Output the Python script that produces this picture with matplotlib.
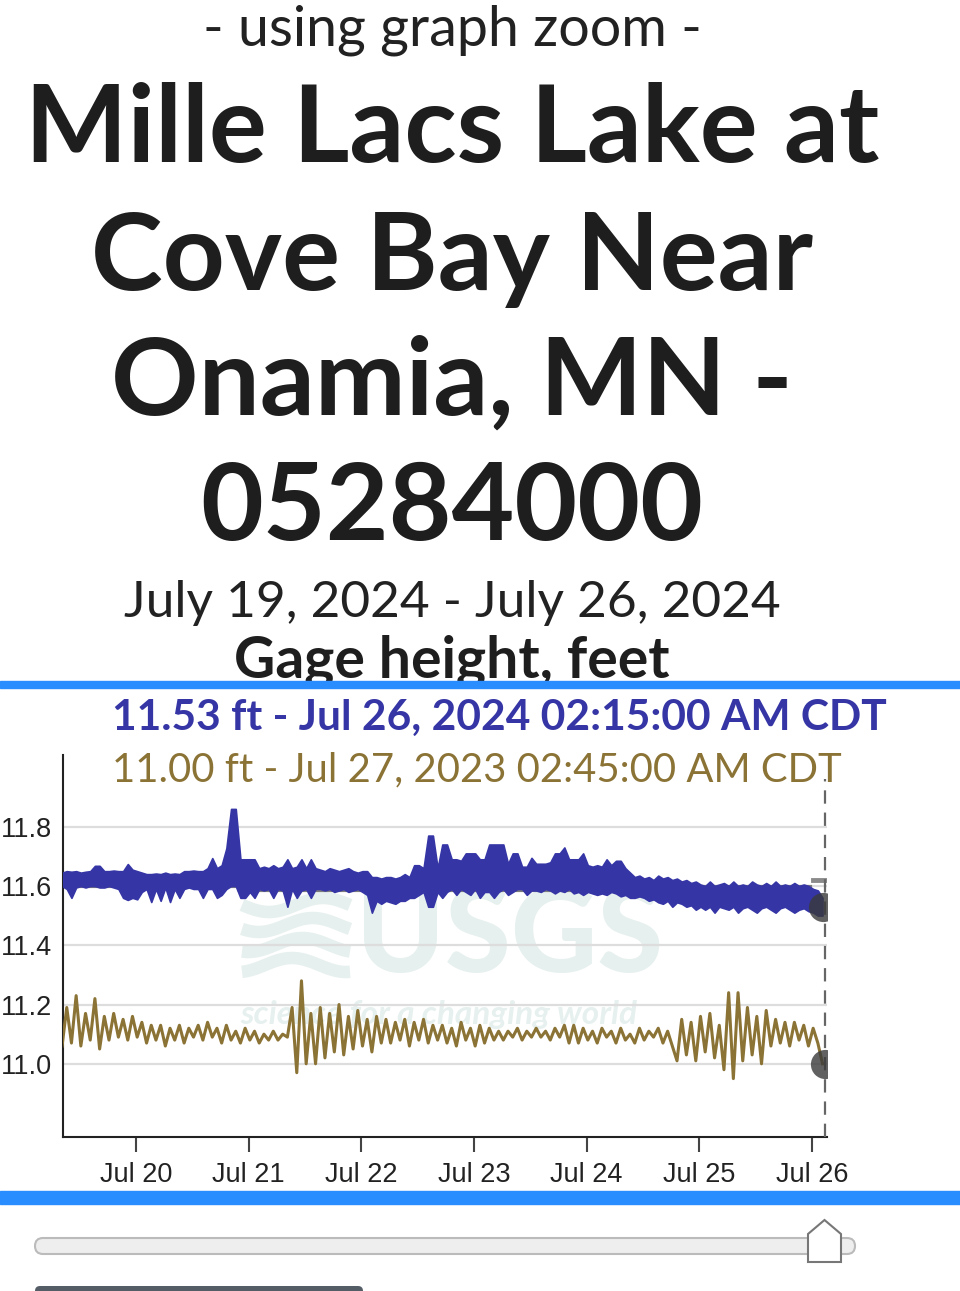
import numpy as np
import matplotlib
matplotlib.use("Agg")
import matplotlib.pyplot as plt
from matplotlib.patches import FancyBboxPatch, Polygon, Rectangle

# %% data -----------------------------------------------------------------
# one reading per hour, hours counted from Jul 19 2024 00:00
t_start = 8.25

# 2024 gage height, band top / bottom (ft)
blue_hi = [11.645, 11.65, 11.648, 11.65, 11.645, 11.648, 11.65,
           11.668, 11.668,
           11.65, 11.65, 11.652, 11.65, 11.65,
           11.674, 11.655, 11.65, 11.645,
           11.64, 11.64, 11.642, 11.64, 11.645, 11.64, 11.642, 11.64,
           11.65, 11.65, 11.652, 11.65, 11.65, 11.66,
           11.694,
           11.66, 11.67,
           11.727,
           11.86, 11.86,
           11.69, 11.69, 11.69, 11.69,
           11.66, 11.665, 11.66, 11.67, 11.66, 11.665, 11.69, 11.66, 11.665, 11.69, 11.66, 11.69, 11.66,
           11.655, 11.65, 11.66, 11.655, 11.65, 11.655, 11.66, 11.65, 11.645,
           11.65, 11.65,
           11.63,
           11.63, 11.625, 11.63, 11.63, 11.625, 11.63, 11.64, 11.63,
           11.67, 11.67,
           11.66,
           11.77, 11.77,
           11.66,
           11.74, 11.74,
           11.69, 11.69, 11.685,
           11.71, 11.71, 11.71,
           11.69, 11.69,
           11.74, 11.74, 11.74,
           11.74,
           11.675,
           11.71, 11.71,
           11.665, 11.665, 11.695,
           11.675, 11.675, 11.675,
           11.68, 11.71, 11.71,
           11.73,
           11.69, 11.69, 11.69,
           11.71,
           11.67, 11.665, 11.67, 11.665, 11.69, 11.67,
           11.685, 11.685,
           11.66, 11.645, 11.63, 11.635, 11.625,
           11.63, 11.62, 11.635, 11.625, 11.63, 11.62, 11.625, 11.615, 11.62, 11.61, 11.615,
           11.605, 11.60, 11.615, 11.60, 11.605, 11.61, 11.60, 11.615, 11.60, 11.605, 11.60, 11.615, 11.605,
           11.60, 11.61, 11.60, 11.615, 11.60, 11.605, 11.60, 11.61, 11.60, 11.605, 11.60, 11.59, 11.585,
           11.56]
blue_lo = [11.60, 11.59, 11.56, 11.595, 11.60, 11.595, 11.60,
           11.60, 11.595,
           11.595, 11.60, 11.595, 11.59, 11.56,
           11.553, 11.56, 11.555, 11.58,
           11.59, 11.546, 11.59, 11.55, 11.595, 11.546, 11.59, 11.56,
           11.59, 11.595, 11.59, 11.59, 11.56, 11.59,
           11.59,
           11.56, 11.57,
           11.59,
           11.60, 11.60,
           11.56, 11.56, 11.58, 11.56,
           11.59, 11.585, 11.59, 11.56, 11.59, 11.585, 11.53, 11.59, 11.56, 11.585, 11.59, 11.56, 11.59,
           11.59, 11.585, 11.59, 11.58, 11.585, 11.59, 11.58, 11.585, 11.59,
           11.58, 11.57,
           11.51,
           11.55, 11.54, 11.55, 11.545, 11.54, 11.55, 11.55, 11.56,
           11.56, 11.57,
           11.58,
           11.53, 11.53,
           11.58,
           11.56, 11.58,
           11.59, 11.57, 11.59,
           11.58, 11.57, 11.59,
           11.56, 11.58,
           11.58, 11.56, 11.58,
           11.59,
           11.57,
           11.58, 11.59,
           11.59, 11.57, 11.585,
           11.585, 11.58, 11.59,
           11.585, 11.575, 11.585,
           11.58,
           11.59, 11.575, 11.58,
           11.57,
           11.58, 11.575, 11.57, 11.575, 11.57, 11.58,
           11.575, 11.565,
           11.57, 11.56, 11.56, 11.565, 11.56,
           11.55, 11.555, 11.545, 11.54, 11.55, 11.53, 11.545, 11.54, 11.53, 11.535, 11.52,
           11.53, 11.52, 11.53, 11.51, 11.53, 11.525, 11.52, 11.53, 11.51, 11.525, 11.53, 11.52, 11.51,
           11.525, 11.53, 11.52, 11.51, 11.525, 11.53, 11.52, 11.51, 11.52, 11.525, 11.515, 11.51, 11.50,
           11.50]

# 2023 gage height (ft), shifted onto the 2024 dates
gold = [11.06, 11.19, 11.07, 11.23, 11.06, 11.17, 11.08, 11.22, 11.05,
        11.16, 11.08, 11.17, 11.09, 11.15, 11.08, 11.16, 11.09,
        11.14, 11.07, 11.13, 11.08, 11.13, 11.06, 11.12, 11.08, 11.13, 11.07, 11.12, 11.09, 11.13,
        11.08, 11.14, 11.09, 11.12, 11.07, 11.13, 11.08, 11.11, 11.07, 11.12, 11.08, 11.11, 11.07,
        11.10, 11.08, 11.11, 11.08, 11.10, 11.09,
        11.19, 10.97, 11.28, 11.00, 11.17, 11.00, 11.19,
        11.02, 11.17, 11.04, 11.20, 11.03, 11.16, 11.05, 11.18, 11.06, 11.15, 11.04, 11.16, 11.07,
        11.15, 11.07, 11.14, 11.08, 11.15, 11.06, 11.14, 11.08, 11.15, 11.07, 11.13, 11.08,
        11.13, 11.07, 11.12, 11.06, 11.14, 11.08, 11.12, 11.06, 11.13, 11.07, 11.12, 11.08, 11.11,
        11.08, 11.11, 11.09, 11.12, 11.08, 11.11, 11.09, 11.12, 11.09, 11.11, 11.08, 11.12, 11.09, 11.13, 11.07,
        11.13, 11.07,
        11.12, 11.08, 11.11, 11.07, 11.12, 11.09, 11.11, 11.07, 11.12, 11.08, 11.10, 11.07, 11.12, 11.08,
        11.11, 11.09, 11.12, 11.07, 11.11, 11.06, 11.01,
        11.15, 11.03, 11.14, 11.01, 11.16, 11.04, 11.17, 11.02, 11.13, 10.98, 11.24,
        10.95, 11.24, 11.01, 11.19, 11.03, 11.16, 11.00, 11.18,
        11.06, 11.15, 11.07, 11.14, 11.06, 11.14, 11.08, 11.13, 11.06, 11.12, 11.07, 11.00]

# gray reference line (ft)
gray_hours = [8.25, 46, 132, 167.5]
gray_vals = [11.60, 11.585, 11.595, 11.595]

last_2024 = 11.53
last_2023 = 11.00
tick_days = [20, 21, 22, 23, 24, 25, 26]
tick_labels = ['Jul 20', 'Jul 21', 'Jul 22', 'Jul 23', 'Jul 24', 'Jul 25', 'Jul 26']
y_ticks = [11.0, 11.2, 11.4, 11.6, 11.8]

BLUE = '#3535a6'
GOLD = '#8b7336'
BAR = '#2a8dff'
WM = '#e6f0ee'

hours = t_start + np.arange(len(blue_hi))
gold_hours = t_start + np.arange(len(gold))

W, H = 960, 1291
fig = plt.figure(figsize=(W / 100, H / 100), dpi=100)

# %% page layer in pixel coordinates --------------------------------------
bg = fig.add_axes([0, 0, 1, 1], zorder=0)
bg.set_xlim(0, W)
bg.set_ylim(H, 0)
bg.axis('off')

cx = 452
bg.text(cx, 46, '- using graph zoom -', family='Lato', fontsize=40,
        ha='center', va='baseline', color='#222222')
for y, line in zip([162, 290, 415, 540],
                   ['Mille Lacs Lake at', 'Cove Bay Near', 'Onamia, MN -', '05284000']):
    bg.text(cx, y, line, family='Lato', fontweight='bold', fontsize=78,
            ha='center', va='baseline', color='#1e1e1e')
bg.text(cx, 617, 'July 19, 2024 - July 26, 2024', family='Lato', fontsize=37,
        ha='center', va='baseline', color='#222222')
bg.text(cx, 678, 'Gage height, feet', family='Lato', fontweight='bold', fontsize=41,
        ha='center', va='baseline', color='#1e1e1e')

bg.add_patch(Rectangle((0, 681), W, 7, color=BAR, zorder=5))
bg.add_patch(Rectangle((0, 1191), W, 13, color=BAR, zorder=5))

bg.text(112, 730, '11.53 ft - Jul 26, 2024 02:15:00 AM CDT', family='Lato',
        fontweight='bold', fontsize=30.6, ha='left', va='baseline', color=BLUE)
bg.text(112, 781, '11.00 ft - Jul 27, 2023 02:45:00 AM CDT', family='Lato',
        fontsize=28.8, ha='left', va='baseline', color=GOLD)

# USGS watermark
wx = np.linspace(242, 350, 60)
for k, yy in enumerate([905, 925, 945, 965]):
    bg.plot(wx, yy + 7 * np.sin((wx - 242) / 108 * 2 * np.pi + k * 0.6),
            color=WM, lw=9, solid_capstyle='butt', zorder=1)
bg.text(356, 972, 'USGS', family='Lato', fontweight='black', fontsize=86,
        ha='left', va='baseline', color=WM, zorder=1)
bg.text(240, 1024, 'science for a changing world', family='Lato', fontweight='bold',
        style='italic', fontsize=24, ha='left', va='baseline', color=WM, zorder=1)

# slider
bg.add_patch(FancyBboxPatch((35, 1238), 820, 16, boxstyle='round,pad=0,rounding_size=8',
                            fc='#eeeeee', ec='#bbbbbb', lw=1.5))
bg.add_patch(Polygon([(808, 1262), (808, 1234), (824.5, 1220), (841, 1234), (841, 1262)],
                     closed=True, fc='white', ec='#777777', lw=1.5, zorder=3))
bg.add_patch(FancyBboxPatch((35, 1286), 328, 20, boxstyle='round,pad=0,rounding_size=5',
                            fc='#545c66', ec='none'))

# %% chart ----------------------------------------------------------------
y_px = lambda p: (H - p) / H
ax = fig.add_axes([63 / W, y_px(1137), (827 - 63) / W, (1137 - 755) / H], zorder=2)
ax.set_facecolor('none')
ax.set_xlim(8.45, 171.2)
ax.set_ylim(10.753, 12.042)

for v in y_ticks:
    ax.axhline(v, color='#dddddd', lw=1.6, zorder=1)

ax.plot(gray_hours, gray_vals, drawstyle='steps-post', color='#7d7d7d', lw=3, zorder=2)
ax.plot([168.3, 171], [11.62, 11.62], color='#8a8a8a', lw=3.5, zorder=2)

ax.fill_between(hours, blue_lo, blue_hi, color=BLUE, lw=1.2, edgecolor=BLUE, zorder=3)
ax.plot(gold_hours, gold, color=GOLD, lw=2.2, zorder=3)

ax.plot([170.75, 170.75], [10.753, 11.96], color='#666666', lw=1.6,
        dashes=(6, 4), zorder=4)
ax.plot([hours[-1]], [last_2024], 'o', ms=21, color='#3a3a3a', alpha=0.8, mec='none', zorder=5)
ax.plot([170.75], [last_2023], 'o', ms=21, color='#3a3a3a', alpha=0.8, mec='none', zorder=5)

for s in ['top', 'right']:
    ax.spines[s].set_visible(False)
for s in ['left', 'bottom']:
    ax.spines[s].set_color('#222222')
    ax.spines[s].set_linewidth(1.5)

ax.set_xticks([24 * (d - 19) for d in tick_days])
ax.set_xticklabels(tick_labels)
ax.set_yticks(y_ticks)
ax.set_yticklabels([f'{v:.1f}' for v in y_ticks])
ax.tick_params(axis='x', length=11, width=1.5, color='#444444', pad=7,
               labelsize=19.5, labelcolor='#222222')
ax.tick_params(axis='y', length=0, pad=8, labelsize=19.5, labelcolor='#222222')
for lab in ax.get_xticklabels() + ax.get_yticklabels():
    lab.set_family('Liberation Sans')

fig.savefig('out.png', dpi=100)
